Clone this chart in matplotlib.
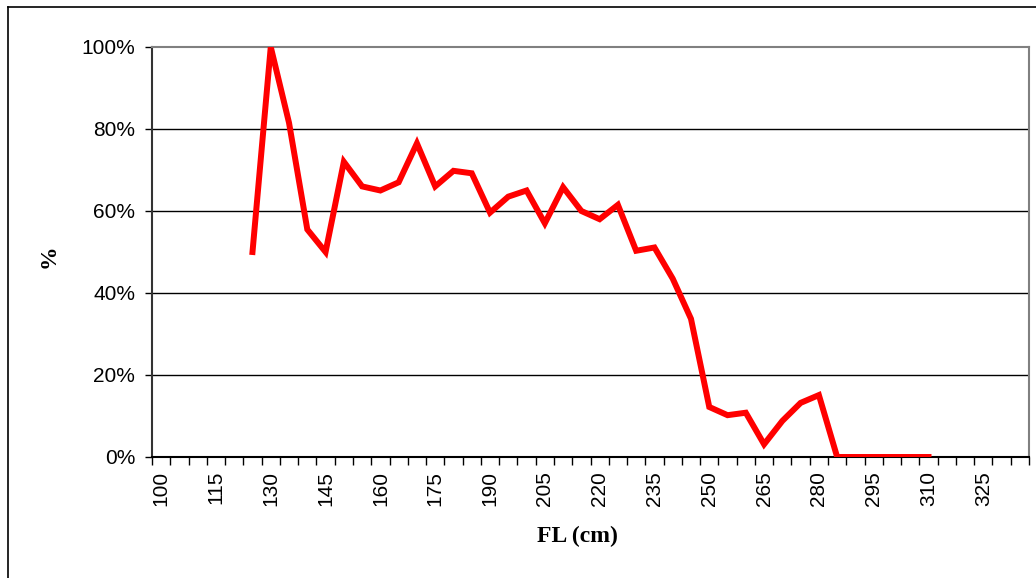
import numpy as np
import matplotlib
matplotlib.use("Agg")
import matplotlib.pyplot as plt
from matplotlib.ticker import FixedLocator, FuncFormatter

# length classes (cm)
fl_classes = list(range(100, 340, 5))

# percentage per class (NaN = no data)
pct_start = 125
pct_values = [50, 100, 81.5, 55.5, 50, 72, 66, 65, 67, 76.5,
              66, 69.8, 69.2, 59.6, 63.5, 65, 57, 65.8, 60, 58,
              61.5, 50.3, 51.1, 43.5, 33.7, 12.2, 10.2, 10.8, 3.1, 8.8,
              13.2, 15.1, 0, 0, 0, 0, 0, 0]

y = np.full(len(fl_classes), np.nan)
i0 = fl_classes.index(pct_start)
y[i0:i0 + len(pct_values)] = pct_values
x = np.arange(len(fl_classes))

fig = plt.figure(figsize=(10.36, 5.78), dpi=100)
ax = fig.add_axes([152 / 1036, 1 - 457 / 578, (1029 - 152) / 1036, (457 - 47) / 578])

ax.plot(x, y, color="#ff0000", lw=4.3, solid_joinstyle="miter", zorder=3)

ax.set_xlim(-0.5, len(fl_classes) - 0.5)
ax.set_ylim(0, 100)

# gridlines
for g in [20, 40, 60, 80]:
    ax.axhline(g, color="black", lw=1.0, zorder=1)

# y ticks
ax.set_yticks([0, 20, 40, 60, 80, 100])
ax.yaxis.set_major_formatter(FuncFormatter(lambda v, p: f"{v:.0f}%"))
ax.tick_params(axis="y", direction="out", length=5, width=1, pad=7,
               labelsize=15, labelfontfamily="Liberation Sans")

# x: labels every third class, tick marks at class boundaries
ax.set_xticks(x[::3])
ax.set_xticklabels([str(c) for c in fl_classes[::3]], rotation=90,
                   fontsize=15, fontfamily="Liberation Sans")
ax.xaxis.set_minor_locator(FixedLocator(np.arange(-0.5, len(fl_classes), 1)))
ax.tick_params(axis="x", which="major", length=0, pad=10)
ax.tick_params(axis="x", which="minor", direction="out", length=6, width=1)

ax.spines["top"].set_color("#808080")
ax.spines["right"].set_color("#808080")
ax.spines["top"].set_linewidth(1.5)
ax.spines["right"].set_linewidth(1.5)
ax.spines["left"].set_color("#333333")
ax.spines["left"].set_linewidth(1.5)
ax.spines["bottom"].set_color("black")
ax.spines["bottom"].set_linewidth(1.5)

ax.set_xlabel("FL (cm)", fontsize=17, fontweight="bold",
              fontfamily="Liberation Serif")
ax.set_ylabel("%", fontsize=17, fontweight="bold",
              fontfamily="Liberation Serif")
ax.xaxis.set_label_coords(0.485, -0.168)
ax.yaxis.set_label_coords(-0.105, 0.49)

# outer chart frame
fig.add_artist(plt.Line2D([8 / 1036, 8 / 1036], [0, 1 - 7 / 578], color="black", lw=1.2))
fig.add_artist(plt.Line2D([8 / 1036, 1], [1 - 7 / 578, 1 - 7 / 578], color="black", lw=1.2))

fig.savefig("out.png", dpi=100)
